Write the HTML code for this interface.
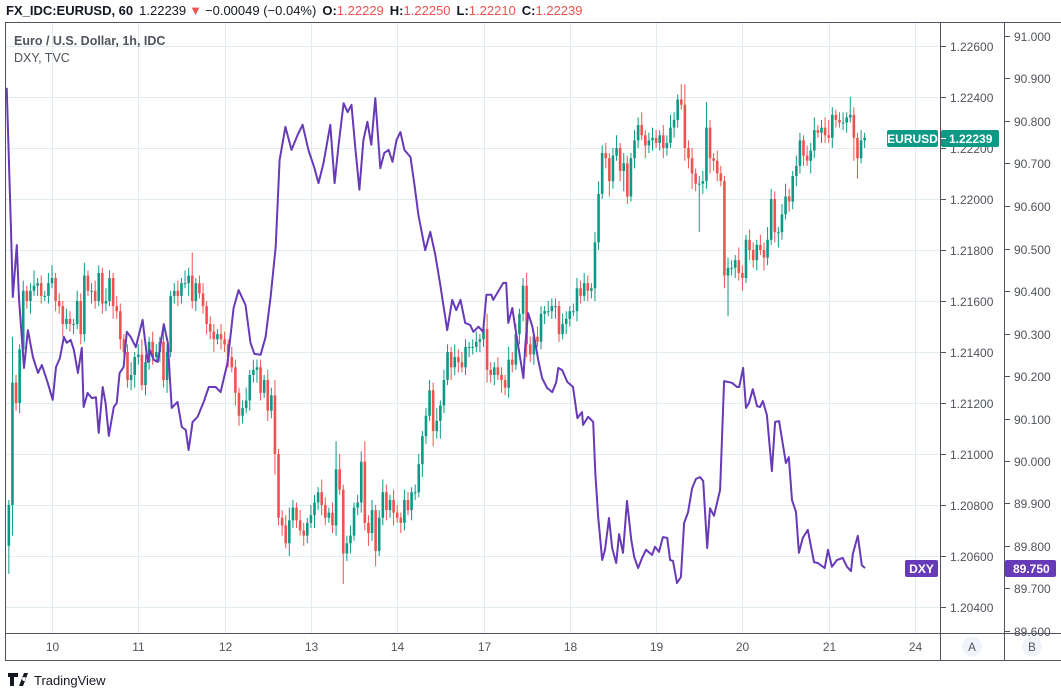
<!DOCTYPE html>
<html><head><meta charset="utf-8">
<style>
html,body{margin:0;padding:0;background:#fff;}
body{width:1061px;height:688px;overflow:hidden;position:relative;font-family:"Liberation Sans",sans-serif;}
svg text{font-family:"Liberation Sans",sans-serif;}
</style></head>
<body>
<svg id="chart" width="1061" height="688" viewBox="0 0 1061 688" xmlns="http://www.w3.org/2000/svg">
  <defs><clipPath id="pane"><rect x="6" y="22" width="934" height="611"/></clipPath></defs>
  <g id="grid"></g>
  <g id="candles" clip-path="url(#pane)"></g>
  <g id="dxy" clip-path="url(#pane)"></g>
  <g id="frame" stroke="#50535e" stroke-width="1" fill="none">
    <line x1="5.5" y1="22" x2="5.5" y2="660"/>
    <line x1="5" y1="22.5" x2="1061" y2="22.5"/>
    <line x1="940.5" y1="22" x2="940.5" y2="660"/>
    <line x1="1004.5" y1="22" x2="1004.5" y2="660"/>
    <line x1="5" y1="633.5" x2="1061" y2="633.5"/>
    <line x1="5" y1="660.5" x2="1061" y2="660.5"/>
  </g>
  <g id="axisA"></g>
  <g id="axisB"></g>
  <g id="axisX"></g>

  <text x="6" y="15" font-size="13" fill="#131722"><tspan font-weight="bold">FX_IDC:EURUSD, 60</tspan><tspan dx="6">1.22239</tspan><tspan fill="#ef5350" dx="3">▼</tspan><tspan dx="3">−0.00049 (−0.04%)</tspan><tspan dx="6" font-weight="bold">O:</tspan><tspan fill="#ef5350">1.22229</tspan><tspan dx="6" font-weight="bold">H:</tspan><tspan fill="#ef5350">1.22250</tspan><tspan dx="6" font-weight="bold">L:</tspan><tspan fill="#ef5350">1.22210</tspan><tspan dx="6" font-weight="bold">C:</tspan><tspan fill="#ef5350">1.22239</tspan></text>
  <text x="14" y="45" font-size="12.5" font-weight="bold" fill="#50535e">Euro / U.S. Dollar, 1h, IDC</text>
  <text x="14" y="62" font-size="12.5" fill="#50535e">DXY, TVC</text>

  <g>
    <rect x="887" y="130" width="51" height="17" rx="2" fill="#0c9a87"/>
    <text x="912.5" y="143" font-size="12" font-weight="bold" fill="#fff" text-anchor="middle">EURUSD</text>
    <rect x="941" y="130" width="58" height="17" rx="2" fill="#0c9a87"/>
    <line x1="941" y1="138.5" x2="946" y2="138.5" stroke="#fff"/>
    <text x="949" y="143" font-size="12" font-weight="bold" fill="#fff">1.22239</text>
  </g>
  <g>
    <rect x="905" y="560" width="33" height="17" rx="2" fill="#673ab7"/>
    <text x="921.5" y="573" font-size="12" font-weight="bold" fill="#fff" text-anchor="middle">DXY</text>
    <rect x="1005" y="560" width="51" height="17" rx="2" fill="#673ab7"/>
    <text x="1013" y="573" font-size="12" font-weight="bold" fill="#fff">89.750</text>
  </g>
  <g>
    <circle cx="972" cy="646.5" r="10" fill="#f0f3fa"/>
    <text x="972" y="651" font-size="11.5" fill="#50535e" text-anchor="middle">A</text>
  </g>
  <g>
    <circle cx="1032" cy="646.5" r="10" fill="#f0f3fa"/>
    <text x="1032" y="651" font-size="11.5" fill="#50535e" text-anchor="middle">B</text>
  </g>
  <g>
    <path d="M8 673 h10 v4 h-4 v9 h-4 v-9 h-2 z M19 686 l5 -13 h4 l-5 13 z M24 677 a2 2 0 1 0 0.1 0" fill="#131722"/>
    <text x="34" y="685" font-size="13" fill="#131722">TradingView</text>
  </g>
</svg>
<script>
// ---- data ----
const dayLabels = ['10','11','12','13','14','17','18','19','20','21','24'];
const eurTicks = [1.226,1.224,1.222,1.220,1.218,1.216,1.214,1.212,1.210,1.208,1.206,1.204];
const dxyTicks = [91.0,90.9,90.8,90.7,90.6,90.5,90.4,90.3,90.2,90.1,90.0,89.9,89.8,89.7,89.6];
// EURUSD hourly closes in pips above 1.20000
const closePips = [80,128,120,141,164,160,164,166,167,162,162,167,169,
160,158,151,153,151,151,160,147,170,164,164,160,
171,159,160,169,158,156,145,140,129,131,138,139,
127,136,144,138,140,144,129,140,162,164,162,167,
167,170,160,167,163,158,151,148,145,147,145,143,
138,134,124,115,118,121,131,133,134,124,129,117,123,100,
75,72,65,74,79,74,70,68,73,76,81,85,80,75,77,72,
94,86,61,65,68,79,81,97,73,69,78,62,75,85,78,
82,77,75,73,82,78,85,85,96,107,115,125,109,113,119,
129,140,134,138,136,134,142,142,142,144,
145,149,133,131,134,131,129,126,137,135,147,155,
166,143,139,146,144,155,156,156,158,158,147,151,153,156,156,
165,162,167,164,165,183,202,218,216,207,217,220,211,214,201,216,223,229,225,221,
223,224,222,225,220,222,228,231,239,237,220,216,210,206,206,207,228,216,215,210,
207,170,173,173,176,171,169,184,180,176,182,180,177,184,200,187,187,194,201,199,
209,213,223,217,215,219,227,226,228,225,224,233,231,230,230,232,233,224,216,223,224];
const firstOpenPips = 64;
const wickUp = [2,18,3,2,4,2,3,6,2,3,2,4,5,2,3,2,4,3,2,4,
3,5,2,3,4,3,2,5,3,2,4,3,2,3,5,2,4,6,3,2,
4,3,2,5,3,2,3,4,2,5,3,9,2,3,4,2,3,3,2,4,
3,2,4,3,2,3,5,2,4,3,3,2,4,3,6,2,3,4,5,3,
2,4,3,2,4,3,2,5,3,2,4,11,6,2,3,4,2,3,4,8,
3,4,2,3,5,3,2,4,3,2,4,3,2,3,4,2,3,4,3,5,
2,4,3,2,5,3,4,3,2,3,4,2,3,6,3,2,4,3,2,5,
3,4,2,3,5,3,2,4,3,2,4,3,3,2,4,3,2,3,4,3,
4,3,2,4,5,3,4,2,3,5,2,4,3,2,4,3,5,2,3,4,
3,2,4,3,5,3,2,6,8,3,4,2,3,4,10,3,2,4,3,2,
4,3,2,5,3,2,4,3,2,4,3,5,4,3,2,4,5,3,2,4,
3,2,4,3,5,2,3,4,6,3,2,3,4,2,7,3,2,4,2];
const wickDn = [11,12,3,4,2,3,5,2,4,3,2,3,2,4,3,5,2,3,4,2,
4,3,2,5,3,2,4,3,2,5,3,4,2,3,4,5,3,2,4,3,
3,2,4,3,5,2,3,4,3,2,5,3,4,2,3,4,3,5,2,4,
3,4,2,5,4,3,2,4,3,5,3,2,4,3,8,3,4,2,5,3,
3,2,4,3,2,5,3,4,3,2,3,4,2,12,3,4,2,3,4,3,
5,3,6,2,3,4,3,5,2,4,3,2,4,3,2,5,3,2,6,3,
7,3,2,5,3,4,2,3,4,3,2,4,3,5,3,4,2,5,3,4,
3,2,4,3,5,3,4,2,3,4,2,3,5,3,2,4,3,2,4,3,
2,4,3,5,3,2,4,6,3,2,4,8,3,2,4,3,2,5,3,4,
2,3,4,3,2,4,3,2,5,4,6,3,19,4,3,6,4,3,2,5,
16,3,4,3,5,2,4,3,4,2,5,3,2,4,6,3,2,4,3,4,
3,4,2,5,3,2,4,3,2,4,3,2,3,4,2,9,8,2,3];
// DXY: hour index and value
const dxyHour = [-0.6,0.6,1.1,2.2,2.8,4.2,5.3,6.7,8.1,9.2,10.8,12.2,13.1,14.2,15.3,16.1,17.2,18.1,19.2,20.3,20.8,21.9,23.1,24.2,25.0,26.1,26.9,27.8,29.2,30.0,30.8,31.9,32.8,33.9,35.3,37.2,38.6,39.2,40.3,41.4,43.1,44.2,45.3,46.9,48.1,49.2,50.0,51.1,52.5,54.2,55.6,57.5,58.9,60.8,62.5,63.9,65.8,67.2,68.3,70.0,71.4,72.8,74.2,75.3,76.9,78.6,80.3,81.7,83.3,85.0,86.1,87.5,89.4,90.6,91.7,93.1,94.2,95.3,96.4,97.5,98.6,99.7,100.8,101.9,103.3,104.4,105.6,106.7,107.8,108.9,110.0,111.7,112.8,113.9,115.8,117.2,118.6,120.0,121.9,123.3,124.4,125.6,126.9,128.3,129.2,130.6,131.9,132.8,134.2,134.7,137.5,138.3,138.9,140.0,140.8,141.7,143.1,143.6,144.4,145.6,146.4,147.2,148.3,149.7,151.1,152.2,152.8,153.9,155.3,156.9,158.1,159.4,159.7,161.1,161.7,162.5,163.1,163.9,165.0,165.8,166.9,167.8,168.9,169.7,170.8,171.9,173.1,173.9,175.0,176.1,177.2,178.9,179.7,180.8,181.9,183.1,183.9,184.7,185.8,186.9,187.8,188.9,190.0,191.1,192.2,193.1,194.2,195.0,196.1,197.8,198.9,201.1,202.5,203.1,204.2,205.0,205.8,206.9,208.1,208.9,209.7,210.8,212.2,213.1,214.2,216.1,216.9,217.8,218.9,219.7,220.8,222.2,223.9,225.0,226.9,227.8,228.9,230.3,231.9,233.1,234.2,234.7,236.1,237.2,238.1];
const dxyValue = [90.878,90.544,90.386,90.508,90.386,90.219,90.308,90.245,90.207,90.226,90.184,90.144,90.221,90.242,90.292,90.278,90.285,90.261,90.207,90.266,90.127,90.160,90.148,90.150,90.066,90.174,90.136,90.059,90.127,90.136,90.207,90.221,90.304,90.292,90.268,90.332,90.233,90.261,90.238,90.233,90.322,90.278,90.125,90.139,90.080,90.073,90.026,90.092,90.104,90.139,90.174,90.174,90.162,90.231,90.360,90.402,90.367,90.278,90.252,90.250,90.292,90.386,90.504,90.708,90.786,90.732,90.767,90.791,90.732,90.689,90.654,90.701,90.791,90.654,90.744,90.842,90.821,90.838,90.732,90.638,90.755,90.798,90.744,90.854,90.689,90.725,90.732,90.704,90.755,90.774,90.732,90.715,90.649,90.579,90.496,90.539,90.485,90.414,90.308,90.379,90.355,90.379,90.325,90.320,90.304,90.316,90.304,90.391,90.391,90.379,90.419,90.419,90.325,90.360,90.316,90.268,90.195,90.268,90.348,90.316,90.278,90.238,90.195,90.172,90.162,90.184,90.219,90.214,90.186,90.174,90.101,90.115,90.085,90.104,90.099,90.092,89.972,89.868,89.767,89.791,89.866,89.795,89.760,89.828,89.784,89.906,89.814,89.774,89.748,89.772,89.791,89.779,89.798,89.786,89.821,89.819,89.767,89.765,89.713,89.727,89.854,89.880,89.936,89.958,89.962,89.953,89.795,89.889,89.871,89.932,90.188,90.184,90.174,90.174,90.219,90.125,90.136,90.169,90.129,90.127,90.141,90.108,89.976,90.092,90.094,89.995,90.009,89.908,89.880,89.784,89.819,89.838,89.762,89.760,89.748,89.791,89.751,89.767,89.772,89.751,89.741,89.781,89.824,89.755,89.748];

// ---- scales ----
const NS='http://www.w3.org/2000/svg';
function xDay(k){ return 52 + 86.3*k; }
function xHour(t){ return 52 + 86.3*((t-12)/24); }
function yE(v){ return 46 + (1.226 - v)/0.002*51; }
function yD(v){ return 36 + (91 - v)*425; }
function pipsToPrice(p){ return 1.2 + p/10000; }
function mk(tag, attrs, parent){
  const e=document.createElementNS(NS,tag);
  for(const k in attrs) e.setAttribute(k, attrs[k]);
  parent.appendChild(e); return e;
}

// ---- grid & axes ----
const grid=document.getElementById('grid');
const axA=document.getElementById('axisA'), axB=document.getElementById('axisB'), axX=document.getElementById('axisX');
dayLabels.forEach((lab,k)=>{
  const x=Math.round(xDay(k))+0.5;
  const gl=mk('line',{x1:x,y1:23,x2:x,y2:633,stroke:'#e1ecf2','stroke-width':1},grid);
  
  
  const t=mk('text',{x:x,y:651,'font-size':12,fill:'#50535e','text-anchor':'middle'},axX);
  t.textContent=lab;
  
  
});
eurTicks.forEach(v=>{
  const y=Math.round(yE(v))+0.5;
  const gl=mk('line',{x1:6,y1:y,x2:940,y2:y,stroke:'#e1ecf2','stroke-width':1},grid);
  
  
  if(y<630){
    mk('line',{x1:941,y1:y,x2:946,y2:y,stroke:'#50535e'},axA);
    const t=mk('text',{x:950,y:y+4.5,'font-size':12,fill:'#50535e'},axA);
    t.textContent=v.toFixed(5);
    
    
  }
});
dxyTicks.forEach(v=>{
  const y=Math.round(yD(v))+0.5;
  if(y<636){
    mk('line',{x1:1005,y1:y,x2:1010,y2:y,stroke:'#50535e'},axB);
    const t=mk('text',{x:1014,y:y+4.5,'font-size':12,fill:'#50535e'},axB);
    t.textContent=v.toFixed(3);
    
    
  }
});

// ---- candles ----
const cg=document.getElementById('candles');
const UP='#0c9a87', DN='#ef5350';
closePips.forEach((c,i)=>{
  const o = i===0 ? firstOpenPips : closePips[i-1];
  const top=Math.max(o,c), bot=Math.min(o,c);
  const hi=top+wickUp[i], lo=bot-wickDn[i];
  const x=xHour(i);
  const col = c>=o ? UP : DN;
  const g=mk('g',{},cg);
  
  
  mk('line',{x1:x,y1:yE(pipsToPrice(hi)),x2:x,y2:yE(pipsToPrice(lo)),stroke:col,'stroke-width':1},g);
  const yt=yE(pipsToPrice(top)), yb=yE(pipsToPrice(bot));
  mk('rect',{x:x-1.3,y:yt,width:2.6,height:Math.max(1,yb-yt),fill:col},g);
});

// ---- DXY line ----
const dg=document.getElementById('dxy');
let d='';
dxyHour.forEach((t,i)=>{ d += (i?'L':'M') + xHour(t).toFixed(1) + ' ' + yD(dxyValue[i]).toFixed(1) + ' '; });
const path=mk('path',{d:d,fill:'none',stroke:'#673ab7','stroke-width':2,'stroke-linejoin':'round'},dg);


</script>
</body></html>
